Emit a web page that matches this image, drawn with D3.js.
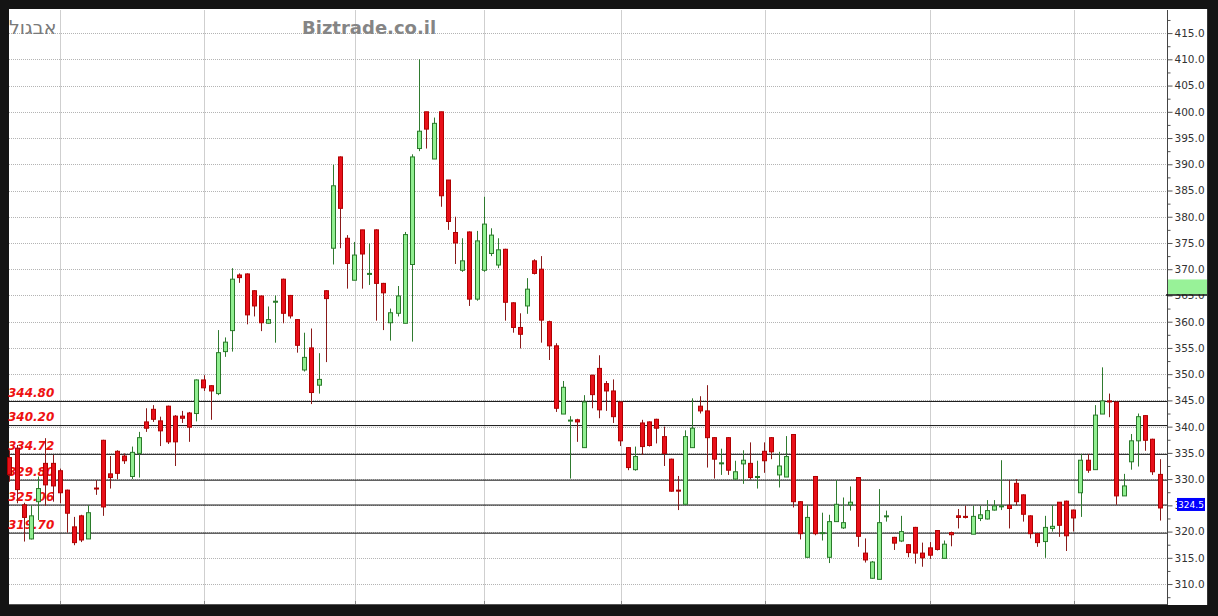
<!DOCTYPE html>
<html>
<head>
<meta charset="utf-8">
<script src="https://cdn.jsdelivr.net/npm/d3@7"></script>
<style>
  html, body { margin: 0; padding: 0; background: #141414; }
  svg { display: block; }
</style>
</head>
<body>
<svg id="chart" width="1218" height="616"></svg>
<script>
// Daily OHLC prices, one entry per trading session
const open = [
  334.1, 335.9, 325.1, 318.6, 325.7, 333.0, 333.0, 331.6, 327.9, 320.9,
  323.0, 318.6, 328.3, 337.4, 331.0, 335.3, 334.4, 330.5, 334.9, 340.9,
  343.3, 341.1, 343.9, 342.0, 342.0, 342.6, 342.5, 348.9, 347.8, 346.3,
  354.3, 358.3, 368.9, 369.1, 365.9, 364.9, 359.7, 363.9, 368.1, 365.0,
  360.4, 350.8, 355.0, 347.9, 365.9, 374.0, 391.4, 375.9, 367.9, 377.5,
  369.2, 377.5, 367.3, 359.8, 361.6, 359.7, 370.9, 393.0, 400.0, 391.0,
  400.0, 387.0, 377.0, 369.8, 377.1, 364.3, 369.8, 373.0, 370.8, 373.8,
  363.6, 358.9, 363.0, 371.6, 370.0, 360.0, 355.4, 342.4, 341.25, 341.3,
  336.0, 349.8, 351.1, 348.2, 346.8, 344.7, 336.0, 331.8, 340.7, 340.9,
  341.4, 338.1, 333.8, 327.9, 325.2, 336.0, 343.9, 343.0, 337.9, 333.1,
  337.9, 330.0, 332.9, 333.0, 330.5, 335.3, 337.9, 330.8, 330.4, 338.5,
  325.7, 315.1, 330.5, 319.8, 315.1, 321.9, 320.7, 325.1, 330.3, 315.9,
  311.1, 310.9, 323.0, 318.9, 318.2, 317.5, 320.8, 315.9, 316.9, 320.2,
  314.9, 319.8, 323.0, 322.9, 319.5, 322.5, 322.4, 324.1, 324.9, 325.0,
  329.2, 327.0, 323.0, 319.6, 318.1, 320.6, 325.6, 325.8, 324.1, 327.4,
  333.6, 331.8, 342.4, 344.9, 344.7, 326.8, 333.3, 337.3, 342.1, 337.6,
  330.9
];
const high = [
  335.5, 336.5, 325.5, 325.0, 330.5, 337.8, 334.6, 332.0, 328.0, 322.8,
  323.2, 325.0, 329.8, 337.5, 334.4, 335.5, 334.9, 336.2, 339.0, 343.5,
  344.1, 341.9, 344.0, 342.2, 343.0, 342.8, 349.0, 349.8, 347.9, 358.4,
  357.0, 370.2, 369.2, 369.2, 366.0, 365.0, 362.9, 365.0, 368.2, 365.1,
  360.5, 357.9, 358.7, 354.0, 366.0, 389.9, 391.5, 376.5, 375.2, 377.5,
  374.9, 377.6, 367.4, 362.5, 366.8, 377.1, 391.9, 410.0, 400.0, 398.9,
  400.0, 387.0, 380.0, 375.9, 377.2, 377.3, 383.8, 377.8, 375.9, 373.9,
  363.7, 361.6, 368.3, 371.9, 372.5, 360.2, 355.9, 348.7, 342.0, 341.5,
  346.0, 349.9, 353.6, 348.7, 349.0, 344.8, 336.1, 336.2, 341.3, 341.0,
  341.5, 340.0, 333.9, 330.6, 339.3, 345.4, 345.8, 347.9, 338.0, 335.8,
  338.0, 333.5, 335.5, 337.0, 333.5, 337.0, 338.0, 335.2, 338.2, 338.6,
  325.8, 325.1, 330.6, 323.6, 323.2, 329.8, 326.5, 328.6, 330.4, 318.7,
  314.4, 328.1, 324.0, 319.0, 323.0, 317.6, 320.9, 317.9, 318.0, 320.3,
  318.3, 320.0, 324.3, 324.9, 324.9, 324.9, 326.0, 326.0, 333.6, 329.8,
  330.0, 327.1, 323.1, 319.7, 323.0, 325.0, 325.6, 325.9, 324.2, 334.8,
  334.8, 344.1, 351.3, 346.3, 344.8, 331.0, 338.6, 342.5, 342.2, 337.7,
  333.8
];
const low = [
  329.5, 325.4, 318.1, 318.5, 322.2, 324.9, 325.7, 325.4, 319.8, 317.4,
  318.0, 318.6, 327.0, 323.0, 328.2, 330.0, 332.9, 330.0, 330.3, 339.0,
  340.9, 336.3, 336.7, 332.5, 340.7, 337.1, 341.0, 346.8, 341.3, 346.0,
  353.3, 354.3, 367.4, 359.5, 361.0, 358.2, 359.6, 356.0, 359.7, 360.6,
  354.1, 350.5, 344.3, 346.3, 352.3, 370.9, 374.0, 366.3, 367.9, 366.3,
  367.0, 360.2, 358.4, 356.4, 361.0, 359.7, 356.2, 392.5, 393.0, 391.0,
  381.9, 377.5, 371.0, 369.5, 363.0, 364.0, 369.5, 372.5, 370.2, 360.2,
  357.9, 354.9, 361.5, 369.0, 356.0, 352.7, 342.8, 342.4, 330.1, 337.1,
  336.0, 343.5, 341.6, 343.0, 340.7, 336.3, 331.7, 331.6, 334.6, 336.2,
  336.8, 332.5, 327.6, 324.1, 325.2, 336.0, 342.5, 332.2, 330.1, 330.8,
  330.8, 329.9, 329.1, 329.9, 328.2, 331.2, 333.8, 328.4, 330.4, 324.6,
  318.5, 315.1, 319.3, 318.3, 314.0, 321.9, 320.5, 324.0, 317.1, 314.1,
  311.0, 310.9, 321.9, 316.5, 318.0, 315.1, 313.9, 313.3, 314.8, 316.4,
  314.9, 317.2, 320.6, 322.5, 319.5, 322.0, 322.3, 324.0, 324.1, 320.6,
  325.0, 321.9, 318.7, 317.1, 315.0, 320.0, 319.0, 316.3, 320.0, 322.8,
  331.2, 331.8, 342.4, 341.8, 325.1, 326.8, 331.8, 332.4, 335.4, 330.8,
  322.1
];
const close = [
  330.9, 328.0, 322.7, 323.0, 328.2, 328.9, 328.7, 327.4, 323.5, 317.9,
  318.4, 323.6, 328.2, 324.7, 330.3, 331.1, 333.5, 335.1, 337.9, 339.7,
  341.4, 339.2, 337.1, 337.1, 341.6, 339.9, 348.9, 347.4, 346.8, 354.1,
  356.1, 368.1, 368.4, 361.3, 363.0, 359.8, 360.4, 363.9, 361.6, 361.1,
  355.5, 353.2, 346.5, 349.0, 364.4, 385.9, 381.6, 371.1, 372.7, 372.9,
  369.2, 367.3, 365.5, 361.7, 364.9, 376.6, 391.4, 396.3, 396.7, 397.8,
  384.0, 379.1, 375.0, 371.6, 364.3, 375.4, 378.6, 376.5, 373.7, 363.7,
  358.9, 357.6, 366.2, 369.2, 360.3, 355.4, 343.5, 347.5, 341.25, 340.9,
  344.7, 346.1, 343.2, 346.8, 341.9, 337.3, 332.2, 334.3, 336.2, 336.4,
  339.7, 334.9, 327.7, 327.8, 338.1, 339.7, 343.0, 337.9, 333.8, 333.1,
  331.7, 331.4, 333.6, 330.3, 330.5, 333.5, 335.2, 332.5, 334.3, 325.7,
  319.6, 322.7, 319.6, 319.8, 321.9, 325.2, 321.7, 325.6, 319.1, 314.6,
  314.2, 321.7, 323.0, 317.8, 320.0, 316.0, 315.9, 315.0, 315.5, 316.6,
  317.6, 319.4, 322.7, 322.7, 322.9, 323.2, 324.0, 324.9, 324.9, 324.4,
  325.7, 323.3, 319.6, 317.9, 320.8, 321.0, 321.2, 319.2, 322.6, 333.6,
  331.7, 342.2, 344.9, 344.8, 326.8, 328.7, 337.3, 341.9, 337.4, 331.4,
  324.5
];

// Horizontal support / resistance levels drawn across the chart
const levels = [344.80, 340.20, 334.72, 329.80, 325.06, 319.70];

// Price axis ticks
const priceTicks = [310, 315, 320, 325, 330, 335, 340, 345, 350, 355, 360, 365,
                    370, 375, 380, 385, 390, 395, 400, 405, 410, 415];

// Sessions that open a new month (vertical separators)
const monthStarts = [7, 27, 48, 66, 85, 105, 128, 148];

const lastPrice = 324.5;
const markerPrice = 365;

const sessions = close.map((_, i) => i);

const svg = d3.select("#chart");
const plot = { left: 9, right: 1167, top: 10, bottom: 604 };

const x = d3.scaleBand()
  .domain(sessions)
  .range([7.4, 1162.6])
  .paddingInner(0.3)
  .paddingOuter(0);

const y = d3.scaleLinear()
  .domain([306.2, 419.4])
  .range([plot.bottom, plot.top]);

const cx = i => x(i) + x.bandwidth() / 2;
const crisp = v => Math.round(v) + 0.5;

// White chart panel
svg.append("rect")
  .attr("x", 9).attr("y", 9)
  .attr("width", 1198).attr("height", 596)
  .attr("fill", "#ffffff");

// Vertical month separators
svg.append("g")
  .selectAll("line")
  .data(monthStarts)
  .join("line")
  .attr("x1", d => crisp(cx(d))).attr("x2", d => crisp(cx(d)))
  .attr("y1", plot.top).attr("y2", plot.bottom)
  .attr("stroke", "#cfcfcf")
  .attr("stroke-width", 1);

// Horizontal price grid
svg.append("g")
  .selectAll("line")
  .data(priceTicks)
  .join("line")
  .attr("x1", plot.left).attr("x2", plot.right)
  .attr("y1", d => crisp(y(d))).attr("y2", d => crisp(y(d)))
  .attr("stroke", "#b4b4b4")
  .attr("stroke-dasharray", "1,1")
  .attr("stroke-width", 1);

// Titles
svg.append("text")
  .attr("x", 9).attr("y", 34)
  .attr("font-family", "DejaVu Sans")
  .attr("font-size", 19)
  .attr("fill", "#7a7a7a")
  .text("אבגול");

svg.append("text")
  .attr("x", 302).attr("y", 34)
  .attr("font-family", "DejaVu Sans")
  .attr("font-weight", "bold")
  .attr("font-size", 18)
  .attr("fill", "#858585")
  .text("Biztrade.co.il");

// Level lines and their labels
const levelG = svg.append("g");
levelG.selectAll("line")
  .data(levels)
  .join("line")
  .attr("x1", plot.left).attr("x2", plot.right)
  .attr("y1", d => y(d)).attr("y2", d => y(d))
  .attr("stroke", "#111")
  .attr("stroke-width", 1);

levelG.selectAll("text")
  .data(levels)
  .join("text")
  .attr("x", 8)
  .attr("y", d => y(d) - 4.5)
  .attr("font-family", "DejaVu Sans")
  .attr("font-weight", "bold")
  .attr("font-style", "italic")
  .attr("font-size", 12)
  .attr("fill", "#ee1111")
  .text(d => d3.format(".2f")(d));

// Candlesticks
const candles = svg.append("g")
  .selectAll("g")
  .data(sessions)
  .join("g");

const up = i => close[i] >= open[i];

candles.append("line")
  .attr("x1", i => crisp(cx(i) - 0.5)).attr("x2", i => crisp(cx(i) - 0.5))
  .attr("y1", i => y(high[i])).attr("y2", i => y(low[i]))
  .attr("stroke", i => up(i) ? "#2f7a2f" : "#8a1a1a")
  .attr("stroke-width", 1);

candles.append("rect")
  .attr("x", i => Math.round(x(i)) + 0.5)
  .attr("width", 4)
  .attr("y", i => y(Math.max(open[i], close[i])))
  .attr("height", i => Math.max(1, Math.abs(y(open[i]) - y(close[i]))))
  .attr("fill", i => up(i) ? "#90ee90" : "#e8101a")
  .attr("stroke", i => up(i) ? "#2a7a2a" : "#b00000")
  .attr("stroke-width", 1);

// Price axis (right side): minor ticks, then labelled major ticks
const minorAxis = svg.append("g")
  .attr("transform", `translate(${plot.right + 0.5},0)`)
  .call(
    d3.axisRight(y)
      .tickValues(d3.range(307.5, 419, 5))
      .tickSize(3)
      .tickFormat("")
  );
minorAxis.select(".domain").remove();

const majorAxis = svg.append("g")
  .attr("transform", `translate(${plot.right + 0.5},0)`)
  .call(
    d3.axisRight(y)
      .tickValues(priceTicks)
      .tickSize(5)
      .tickPadding(2)
      .tickFormat(d3.format(".1f"))
  );
majorAxis.select(".domain").remove();
majorAxis.selectAll("text")
  .attr("font-family", "DejaVu Sans")
  .attr("font-size", 10.5)
  .attr("fill", "#333");
svg.selectAll(".tick line").attr("stroke", "#555");

svg.append("line")
  .attr("x1", plot.right + 0.5).attr("x2", plot.right + 0.5)
  .attr("y1", plot.top).attr("y2", plot.bottom + 1)
  .attr("stroke", "#444");

// Time axis baseline with month ticks
svg.append("line")
  .attr("x1", plot.left).attr("x2", plot.right)
  .attr("y1", plot.bottom + 0.5).attr("y2", plot.bottom + 0.5)
  .attr("stroke", "#555");
svg.append("g")
  .selectAll("line")
  .data(monthStarts)
  .join("line")
  .attr("x1", d => crisp(cx(d))).attr("x2", d => crisp(cx(d)))
  .attr("y1", plot.bottom - 3).attr("y2", plot.bottom)
  .attr("stroke", "#888");

// Marker at 365
svg.append("rect")
  .attr("x", plot.right + 1).attr("y", y(markerPrice) - 16)
  .attr("width", 39).attr("height", 15)
  .attr("fill", "#98f298");
svg.append("line")
  .attr("x1", plot.right - 1).attr("x2", 1208)
  .attr("y1", y(markerPrice) - 0.5).attr("y2", y(markerPrice) - 0.5)
  .attr("stroke", "#111")
  .attr("stroke-width", 1.5);

// Last price box
const lastY = y(lastPrice);
svg.append("rect")
  .attr("x", 1177).attr("y", lastY - 10)
  .attr("width", 28).attr("height", 13)
  .attr("fill", "#0000ff");
svg.append("text")
  .attr("x", 1191).attr("y", lastY - 3.5)
  .attr("dy", "0.35em")
  .attr("text-anchor", "middle")
  .attr("font-family", "DejaVu Sans")
  .attr("font-size", 9)
  .attr("fill", "#ffffff")
  .text(d3.format(".1f")(lastPrice));

// Panel right border
svg.append("line")
  .attr("x1", 1207.5).attr("x2", 1207.5)
  .attr("y1", 9).attr("y2", 605)
  .attr("stroke", "#333");
</script>
</body>
</html>
